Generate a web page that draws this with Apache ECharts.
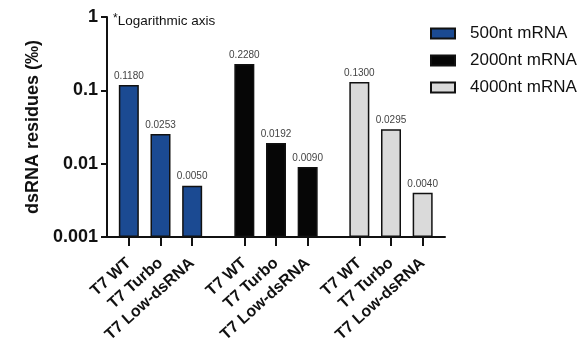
<!DOCTYPE html>
<html>
<head>
<meta charset="utf-8">
<script src="https://cdn.jsdelivr.net/npm/echarts@6/dist/echarts.min.js"></script>
<style>html,body{margin:0;padding:0;background:#fff;}#c{width:587px;height:346px;}</style>
</head>
<body>
<div id="c"></div>
<script>
var categories = ['T7 WT', 'T7 Turbo', 'T7 Low-dsRNA'];
var seriesNames = ['500nt mRNA', '2000nt mRNA', '4000nt mRNA'];
var values500 = [0.1180, 0.0253, 0.0050];
var values2000 = [0.2280, 0.0192, 0.0090];
var values4000 = [0.1300, 0.0295, 0.0040];
var yMin = 0.001, yMax = 1;
var yTitle = 'dsRNA residues (‰)';
var note = 'Logarithmic axis';

var colors = ['#1b4a92', '#060606', '#dadada'];
var allValues = [values500, values2000, values4000];
var FONT = 'Liberation Sans, Arial, sans-serif';
// ECharts log-axis bars grow from value 1, so plot in units of yMin (base = yMin)
var unit = yMin;
function toPlot(v) { return v / unit; }
function fromPlot(v) { return +(v * unit).toPrecision(3); }

var chart = echarts.init(document.getElementById('c'), null, {renderer: 'canvas'});

var grids = [{left: 107, right: 142, top: 17, bottom: 109}];
var groupLefts = [113, 228.5, 343.5];
groupLefts.forEach(function (l) { grids.push({left: l, width: 95, top: 17, bottom: 109}); });

var xAxes = [{
  gridIndex: 0, type: 'value', min: 0, max: 1,
  axisLine: {show: true, lineStyle: {color: '#111', width: 2}},
  axisTick: {show: false}, axisLabel: {show: false}, splitLine: {show: false}
}];
var yAxes = [{
  gridIndex: 0, type: 'log', logBase: 10, min: toPlot(yMin), max: toPlot(yMax),
  name: yTitle, nameLocation: 'middle', nameGap: 58, nameRotate: 90,
  nameTextStyle: {fontFamily: FONT, fontWeight: 'bold', fontSize: 18, color: '#111'},
  axisLine: {show: true, lineStyle: {color: '#111', width: 2}},
  axisTick: {show: true, length: 6, lineStyle: {color: '#111', width: 2}},
  axisLabel: {fontFamily: FONT, fontWeight: 'bold', fontSize: 18, color: '#111', margin: 9,
    formatter: function (v) { return String(fromPlot(v)); }},
  splitLine: {show: false}, minorTick: {show: false}
}];
var series = [];
for (var i = 0; i < 3; i++) {
  xAxes.push({
    gridIndex: i + 1, type: 'category', data: categories,
    axisLine: {show: false},
    axisTick: {show: true, alignWithLabel: true, length: 9, lineStyle: {color: '#111', width: 2}},
    axisLabel: {rotate: 42, fontFamily: FONT, fontWeight: 'bold', fontSize: 16, color: '#111', margin: 24, interval: 0}
  });
  yAxes.push({
    gridIndex: i + 1, type: 'log', logBase: 10, min: toPlot(yMin), max: toPlot(yMax), show: false
  });
  series.push({
    name: seriesNames[i], type: 'bar', xAxisIndex: i + 1, yAxisIndex: i + 1,
    data: allValues[i].map(toPlot), barWidth: 20,
    itemStyle: {color: colors[i], borderColor: '#111', borderWidth: 1.5},
    label: {show: true, position: 'top', distance: 4, fontFamily: FONT, fontSize: 10, color: '#444',
      formatter: (function (arr) { return function (p) { return arr[p.dataIndex].toFixed(4); }; })(allValues[i])}
  });
}

chart.setOption({
  animation: false,
  backgroundColor: '#fff',
  grid: grids,
  xAxis: xAxes,
  yAxis: yAxes,
  series: series,
  legend: {
    orient: 'vertical', left: 425, top: 20, itemWidth: 24, itemHeight: 10, itemGap: 10,
    icon: 'rect', selectedMode: false,
    textStyle: {fontFamily: FONT, fontSize: 17, color: '#111', padding: [0, 0, 0, 10]},
    data: seriesNames
  },
  graphic: [{
    type: 'text', left: 113, top: 13,
    style: {
      text: '{a|*}{b|' + note + '}',
      rich: {
        a: {fontFamily: FONT, fontSize: 12, fill: '#111', verticalAlign: 'top', padding: [0, 0, 5, 0]},
        b: {fontFamily: FONT, fontSize: 13.5, fill: '#111'}
      }
    }
  }]
});
</script>
</body>
</html>
